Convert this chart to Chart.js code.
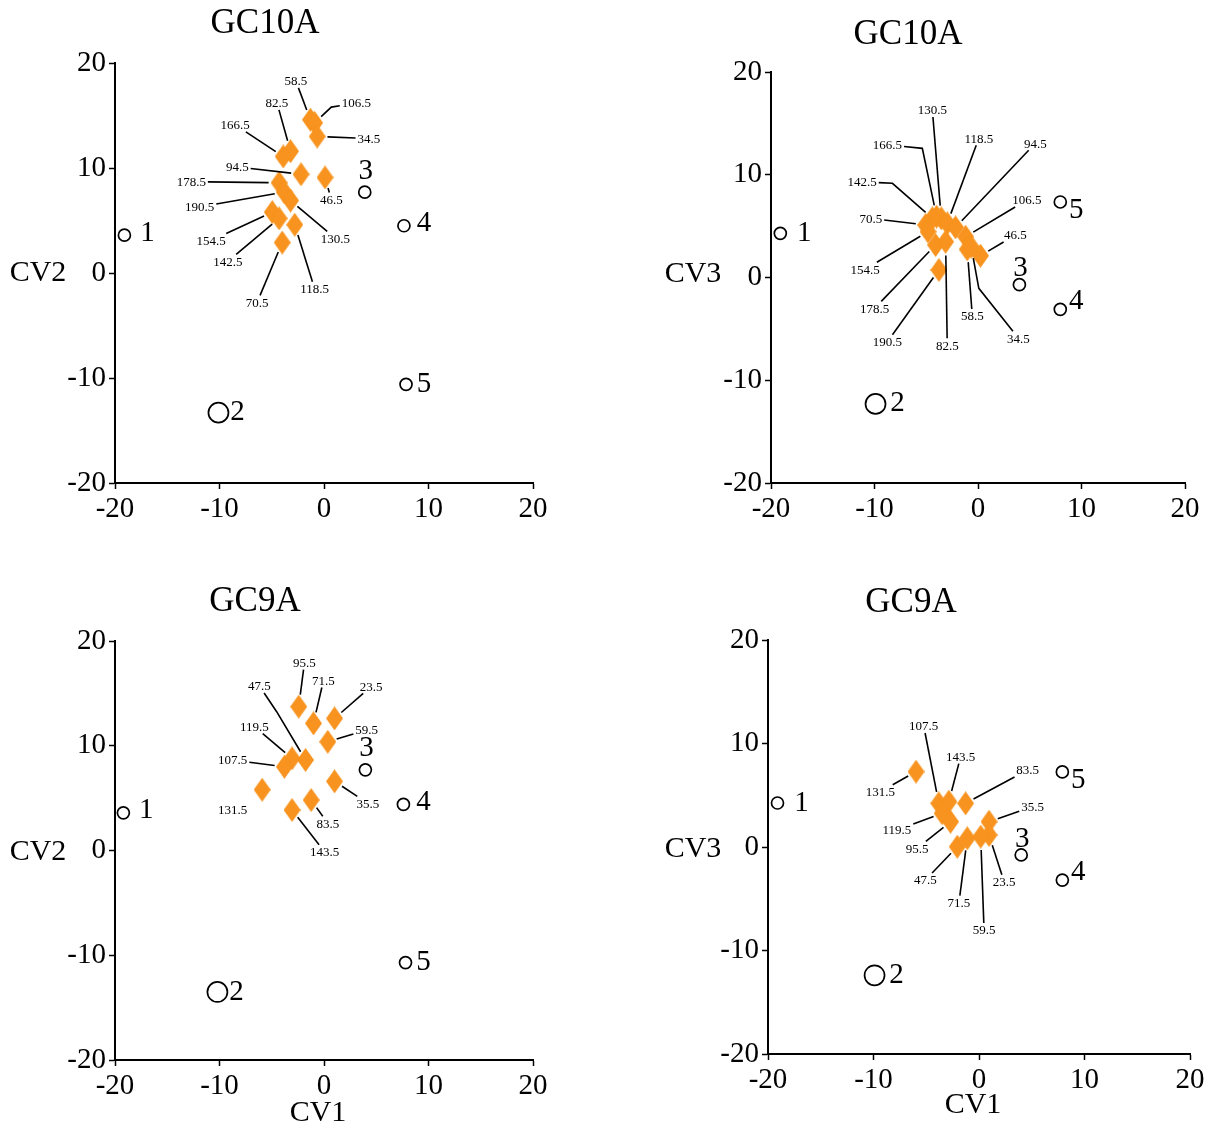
<!DOCTYPE html>
<html lang="en">
<head>
<meta charset="UTF-8">
<title>GC10A / GC9A canonical variates</title>
<script src="https://cdn.jsdelivr.net/npm/chart.js"></script>
<style>
  body { margin: 0; background: #fff; }
  #wrap { position: relative; width: 1217px; height: 1130px; }
  #wrap canvas { position: absolute; left: 0; top: 0; }
</style>
</head>
<body>
<div id="wrap">
  <canvas id="p1" width="1217" height="1130"></canvas>
  <canvas id="p2" width="1217" height="1130"></canvas>
  <canvas id="p3" width="1217" height="1130"></canvas>
  <canvas id="p4" width="1217" height="1130"></canvas>
</div>
<script>
// group centroids (hollow circles)
const groupNames = ['1', '2', '3', '4', '5'];

// GC10A  CV1 / CV2
const a12GroupX = [-19.1, -10.1, 3.9, 7.65, 7.85];
const a12GroupY = [3.6, -13.3, 7.7, 4.5, -10.6];
const a12Names = ['58.5', '106.5', '34.5', '166.5', '82.5', '94.5', '46.5', '178.5', '190.5', '130.5', '154.5', '142.5', '118.5', '70.5'];
const a12X = [-1.3, -0.9, -0.65, -3.9, -3.2, -2.2, 0.1, -4.3, -3.8, -3.2, -4.95, -4.3, -2.8, -4.0];
const a12Y = [14.6, 14.3, 13.0, 11.1, 11.6, 9.4, 9.1, 8.6, 7.7, 6.9, 5.8, 5.2, 4.6, 2.9];

// GC10A  CV1 / CV3
const a13GroupX = [-19.1, -9.9, 4.0, 7.95, 7.95];
const a13GroupY = [4.3, -12.3, -0.7, -3.1, 7.35];
const a13Names = ['130.5', '166.5', '118.5', '94.5', '142.5', '106.5', '70.5', '46.5', '154.5', '178.5', '58.5', '34.5', '190.5', '82.5'];
const a13X = [-3.55, -4.0, -2.97, -2.17, -4.41, -1.2, -5.06, 0.24, -4.83, -4.1, -1.04, -0.66, -3.78, -3.13];
const a13Y = [5.76, 5.92, 5.27, 4.88, 5.76, 3.97, 5.11, 2.12, 4.46, 3.16, 2.74, 3.0, 0.73, 3.48];

// GC9A  CV1 / CV2
const b12GroupX = [-19.2, -10.2, 3.96, 7.6, 7.8];
const b12GroupY = [3.6, -13.5, 7.7, 4.4, -10.7];
const b12Names = ['95.5', '71.5', '23.5', '59.5', '47.5', '119.5', '107.5', '35.5', '131.5', '83.5', '143.5'];
const b12X = [-2.42, -1.01, 1.01, 0.36, -1.77, -3.06, -3.79, 1.01, -5.92, -1.23, -3.06];
const b12Y = [13.73, 12.14, 12.61, 10.38, 8.64, 8.8, 7.99, 6.6, 5.8, 4.82, 3.87];

// GC9A  CV1 / CV3
const b13GroupX = [-19.1, -9.9, 4.0, 7.9, 7.9];
const b13GroupY = [4.25, -12.4, -0.77, -3.2, 7.25];
const b13Names = ['107.5', '143.5', '83.5', '131.5', '35.5', '119.5', '95.5', '47.5', '23.5', '71.5', '59.5'];
const b13X = [-3.81, -2.86, -1.27, -5.97, 0.95, -3.49, -2.7, -2.06, 0.95, -1.11, 0.16];
const b13Y = [4.22, 4.38, 4.22, 7.28, 2.44, 3.25, 2.44, 0.03, 1.16, 0.84, 1.0];

const axisTicks = [-20, -10, 0, 10, 20];

// where each diamond's tag sits (axis units) and optional elbow of its leader
const a12TagX = [-2.7, 3.1, 4.3, -8.5, -4.5, -8.3, 0.7, -12.7, -11.9, 1.1, -10.8, -9.2, -0.9, -6.4];
const a12TagY = [18.3, 16.2, 12.8, 14.1, 16.2, 10.1, 7.0, 8.7, 6.3, 3.3, 3.1, 1.1, -1.5, -2.8];
const a12Bends = { '106.5': [0.7, 15.8] };

const a13TagX = [-4.41, -8.75, 0.08, 5.54, -11.2, 4.72, -10.36, 3.61, -10.9, -10.0, -0.55, 3.91, -8.75, -2.97];
const a13TagY = [16.3, 12.9, 13.55, 13.06, 9.32, 7.54, 5.76, 4.14, 0.8, -3.0, -3.75, -5.92, -6.25, -6.6];
const a13Bends = { '166.5': [-5.38, 12.57], '142.5': [-8.27, 9.17], '34.5': [0.08, -1.05] };

const b12TagX = [-1.87, -0.05, 4.52, 4.09, -6.18, -6.66, -8.74, 4.2, -8.74, 0.36, 0.05];
const b12TagY = [17.93, 16.23, 15.67, 11.5, 15.7, 11.82, 8.64, 4.5, 3.87, 2.6, -0.11];
const b12Bends = { '47.5': [-4.53, 13.25] };
const b12NoLeader = ['131.5'];

const b13TagX = [-5.24, -1.74, 4.6, -9.36, 5.08, -7.78, -5.87, -5.08, 2.38, -1.9, 0.48];
const b13TagY = [11.69, 8.73, 7.44, 5.34, 3.9, 1.64, -0.13, -3.19, -3.35, -5.38, -8.02];

const W = 1217, H = 1130;
const SERIF = "'Liberation Serif', 'DejaVu Serif', serif";
const ORANGE = '#f7931e';
const DW = 17, DH = 24;   // diamond size
const YAXW = 80, XAXH = 50;

function diamondSprite() {
  const c = document.createElement('canvas');
  c.width = DW; c.height = DH;
  const g = c.getContext('2d');
  g.fillStyle = ORANGE;
  g.beginPath();
  g.moveTo(DW / 2, 0); g.lineTo(DW, DH / 2); g.lineTo(DW / 2, DH); g.lineTo(0, DH / 2);
  g.closePath();
  g.fill();
  return c;
}
const diamond = diamondSprite();

function makePanel(id, p) {
  const [left, top, right, bottom] = p.area;

  const overlay = {
    id: 'overlay',
    afterDatasetsDraw(chart) {
      const ctx = chart.ctx;
      const sx = chart.scales.x, sy = chart.scales.y;
      ctx.save();
      ctx.fillStyle = '#000';
      ctx.strokeStyle = '#000';

      // small tags with leader lines
      ctx.font = '13px ' + SERIF;
      ctx.textAlign = 'center';
      ctx.textBaseline = 'middle';
      ctx.lineWidth = 1.6;
      p.names.forEach((name, i) => {
        const lx = sx.getPixelForValue(p.tagX[i]);
        const ly = sy.getPixelForValue(p.tagY[i]);
        ctx.fillText(name, lx, ly + 1);
        if ((p.noLeader || []).includes(name)) return;
        const px = sx.getPixelForValue(p.x[i]);
        const py = sy.getPixelForValue(p.y[i]);
        const bend = (p.bends || {})[name];
        const mid = bend ? [sx.getPixelForValue(bend[0]), sy.getPixelForValue(bend[1])] : [px, py];
        // leave the label box
        const hw = ctx.measureText(name).width / 2 + 2, hh = 7;
        let dx = mid[0] - lx, dy = mid[1] - ly;
        const t = Math.min(dx ? hw / Math.abs(dx) : Infinity, dy ? hh / Math.abs(dy) : Infinity);
        const start = [lx + dx * t, ly + dy * t];
        // stop at the diamond edge
        dx = px - mid[0]; dy = py - mid[1];
        let len = Math.hypot(dx, dy);
        let from = mid;
        if (!bend) { dx = px - start[0]; dy = py - start[1]; len = Math.hypot(dx, dy); from = start; }
        const ux = dx / len, uy = dy / len;
        const edge = 1 / (Math.abs(ux) / (DW / 2) + Math.abs(uy) / (DH / 2)) + 2;
        const end = [px - ux * edge, py - uy * edge];
        ctx.beginPath();
        ctx.moveTo(start[0], start[1]);
        if (bend) ctx.lineTo(mid[0], mid[1]);
        ctx.lineTo(end[0], end[1]);
        ctx.stroke();
      });

      // group numbers beside the circles
      ctx.font = '29px ' + SERIF;
      groupNames.forEach((g, i) => {
        const cx = sx.getPixelForValue(p.gx[i]);
        const cy = sy.getPixelForValue(p.gy[i]);
        const off = p.groupOffsets[i];
        ctx.fillText(g, cx + off[0], cy + off[1]);
      });

      // panel title and axis names
      ctx.font = '35px ' + SERIF;
      ctx.fillText(p.title, p.titleAt[0], p.titleAt[1]);
      ctx.font = '30px ' + SERIF;
      ctx.fillText(p.yName, p.yNameAt[0], p.yNameAt[1]);
      if (p.xName) ctx.fillText(p.xName, p.xNameAt[0], p.xNameAt[1]);
      ctx.restore();
    }
  };

  const axis = (fit) => ({
    type: 'linear',
    min: -20, max: 20,
    afterBuildTicks: (s) => { s.ticks = axisTicks.map(v => ({ value: v })); },
    afterFit: fit,
    grid: { drawOnChartArea: false, drawTicks: true, tickLength: 6, tickColor: '#000', tickWidth: 1.5 },
    border: { display: true, color: '#000', width: 2 },
    ticks: { color: '#000', padding: 3, font: { family: SERIF, size: 29 }, maxRotation: 0 }
  });

  new Chart(document.getElementById(id), {
    type: 'scatter',
    data: {
      datasets: [
        {
          data: p.x.map((v, i) => ({ x: v, y: p.y[i] })),
          pointStyle: diamond,
          pointRadius: 9
        },
        {
          data: p.gx.map((v, i) => ({ x: v, y: p.gy[i] })),
          pointStyle: 'circle',
          pointRadius: [6, 10, 6, 6, 6],
          borderColor: '#000',
          borderWidth: 1.7,
          backgroundColor: 'rgba(0,0,0,0)'
        }
      ]
    },
    options: {
      responsive: false,
      animation: false,
      events: [],
      layout: { padding: { left: left - YAXW, top: top, right: W - right, bottom: H - bottom - XAXH } },
      plugins: { legend: { display: false }, tooltip: { enabled: false } },
      scales: {
        x: axis((s) => { s.height = XAXH; }),
        y: axis((s) => { s.width = YAXW; })
      }
    },
    plugins: [overlay]
  });
}

const rightOffsets = [[23, -2], [19, 0], [1, -21], [20, -2], [18, 0]];
const rightOffsets13 = [[24, 0], [22, 0], [1, -16], [16, -8], [16, 8]];

makePanel('p1', {
  area: [115, 63, 533, 483],
  names: a12Names, x: a12X, y: a12Y, tagX: a12TagX, tagY: a12TagY, bends: a12Bends,
  gx: a12GroupX, gy: a12GroupY, groupOffsets: rightOffsets,
  title: 'GC10A', titleAt: [265, 24],
  yName: 'CV2', yNameAt: [38, 273]
});
makePanel('p2', {
  area: [771, 72, 1185, 483],
  names: a13Names, x: a13X, y: a13Y, tagX: a13TagX, tagY: a13TagY, bends: a13Bends,
  gx: a13GroupX, gy: a13GroupY, groupOffsets: rightOffsets13,
  title: 'GC10A', titleAt: [908, 35],
  yName: 'CV3', yNameAt: [693, 274]
});
makePanel('p3', {
  area: [115, 641, 533, 1060],
  names: b12Names, x: b12X, y: b12Y, tagX: b12TagX, tagY: b12TagY, bends: b12Bends, noLeader: b12NoLeader,
  gx: b12GroupX, gy: b12GroupY, groupOffsets: rightOffsets,
  title: 'GC9A', titleAt: [255, 602],
  yName: 'CV2', yNameAt: [38, 852],
  xName: 'CV1', xNameAt: [318, 1113]
});
makePanel('p4', {
  area: [768, 640, 1190, 1054],
  names: b13Names, x: b13X, y: b13Y, tagX: b13TagX, tagY: b13TagY,
  gx: b13GroupX, gy: b13GroupY, groupOffsets: rightOffsets13,
  title: 'GC9A', titleAt: [911, 603],
  yName: 'CV3', yNameAt: [693, 849],
  xName: 'CV1', xNameAt: [973, 1105]
});
</script>
</body>
</html>
